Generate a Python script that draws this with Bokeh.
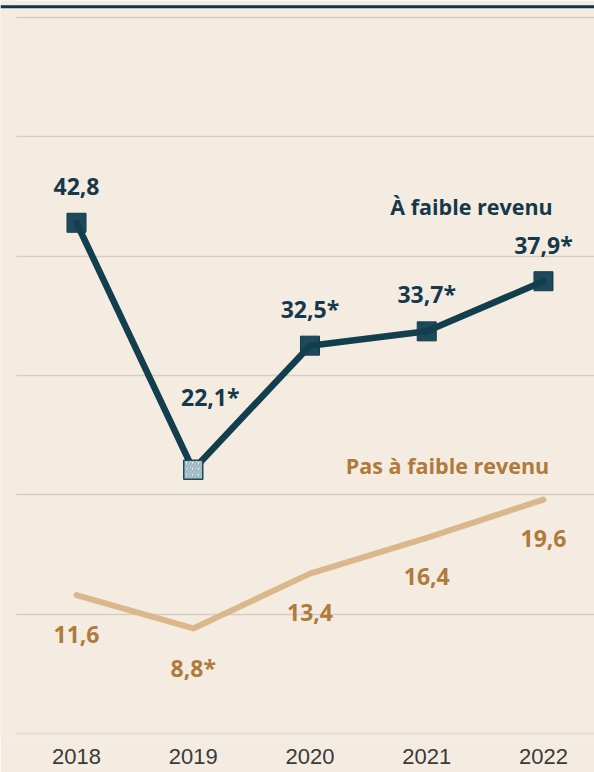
from bokeh.plotting import figure
from bokeh.models import ColumnDataSource, FixedTicker, Grid, Span, Range1d, BoxAnnotation
from bokeh.core.properties import value
from bokeh.embed import file_html
from bokeh.resources import INLINE

# ---- data ----
years = [2018, 2019, 2020, 2021, 2022]
year_labels = ["2018", "2019", "2020", "2021", "2022"]
low_income = [42.8, 22.1, 32.5, 33.7, 37.9]
low_income_labels = ["42,8", "22,1*", "32,5*", "33,7*", "37,9*"]
not_low_income = [11.6, 8.8, 13.4, 16.4, 19.6]
not_low_income_labels = ["11,6", "8,8*", "13,4", "16,4", "19,6"]
series_names = ["À faible revenu", "Pas à faible revenu"]
hatched = [False, True, False, False, False]  # 2019 estimate shown hatched
grid_values = [10, 20, 30, 40, 50, 60]

# ---- styles / label placement (screen px) ----
BG = "#f4ece1"
DARK_LINE = "#133e4e"
DARK_FILL = "#1d4a5b"
DARK_TEXT = "#15394a"
LIGHT_LINE = "#dbb88c"
LIGHT_TEXT = "#b07a3c"
low_dx = [0, 17, 0, 0, 0]
low_dy = [-36, -73, -37, -37, -36]
not_dx = [0, 0, 0, 0, 0]
not_dy = [39, 40, 39, 39, 39]

W, H = 594, 772
X0, X1 = 2017.349, 2022.437
Y0, Y1 = -0.419, 61.4246
px_x = W / (X1 - X0)

p = figure(width=W, height=H, output_backend="svg", toolbar_location=None,
           x_range=Range1d(X0, X1), y_range=Range1d(Y0, Y1),
           min_border_left=0, min_border_right=0, min_border_top=0, min_border_bottom=34)
p.background_fill_color = BG
p.border_fill_color = BG
p.outline_line_color = None
p.yaxis.visible = False
p.xgrid.visible = False
p.ygrid.visible = False

p.xaxis.ticker = FixedTicker(ticks=years)
p.xaxis.major_label_overrides = {y: l for y, l in zip(years, year_labels)}
p.xaxis.axis_line_color = None
p.xaxis.major_tick_line_color = None
p.xaxis.minor_tick_line_color = None
p.xaxis.major_tick_out = 0
p.xaxis.major_tick_in = 0
p.xaxis.major_label_standoff = 10
p.xaxis.major_label_text_font = "Liberation Sans"
p.xaxis.major_label_text_font_size = "22px"
p.xaxis.major_label_text_color = "#3a3a3a"

p.add_layout(Grid(dimension=1, ticker=FixedTicker(ticks=grid_values),
                  grid_line_color="#d6cec3", grid_line_width=1.5))
p.add_layout(Grid(dimension=1, ticker=FixedTicker(ticks=[0]),
                  grid_line_color="#e4ded6", grid_line_width=2))
# gridlines start 16px in from the left edge
p.add_layout(BoxAnnotation(right=X0 + 16 / px_x, fill_color=BG, fill_alpha=1,
                           line_color=None, level="underlay"))
p.add_layout(Span(location=60.897, dimension="width", line_color="#0e3446", line_width=3))

# light series
p.line(years, not_low_income, line_color=LIGHT_LINE, line_width=6, line_cap="round", line_join="round")

# dark series
solid = ColumnDataSource(dict(x=[x for x, h in zip(years, hatched) if not h],
                              y=[v for v, h in zip(low_income, hatched) if not h]))
hat = ColumnDataSource(dict(x=[x for x, h in zip(years, hatched) if h],
                            y=[v for v, h in zip(low_income, hatched) if h]))
p.scatter("x", "y", source=solid, marker="square", size=19, fill_color=DARK_FILL,
          line_color="#123a4a", line_width=1)
p.line(years, low_income, line_color=DARK_LINE, line_width=6.5, line_cap="round", line_join="round")
p.scatter("x", "y", source=hat, marker="square", size=19, fill_color="#f8f6f2",
          line_color="#1d4a5b", line_width=1.5, hatch_pattern="right_diagonal_line",
          hatch_color="#9fb8c2", hatch_scale=6, hatch_weight=2.5)

lsrc = ColumnDataSource(dict(x=years, y=low_income, t=low_income_labels, dx=low_dx, dy=low_dy))
p.text("x", "y", text="t", source=lsrc, x_offset="dx", y_offset="dy",
       text_font=value("Open Sans"), text_font_style="bold", text_font_size="23px",
       text_color=DARK_TEXT, text_align="center", text_baseline="alphabetic")
nsrc = ColumnDataSource(dict(x=years, y=not_low_income, t=not_low_income_labels, dx=not_dx, dy=not_dy))
p.text("x", "y", text="t", source=nsrc, x_offset="dx", y_offset="dy",
       text_font=value("Open Sans"), text_font_style="bold", text_font_size="23px",
       text_color=LIGHT_TEXT, text_align="center", text_baseline="alphabetic")

# series names anchored on last point
p.text(x=[years[-1]], y=[low_income[-1]], text=[series_names[0]], x_offset=-72, y_offset=-75,
       text_font=value("Open Sans"), text_font_style="bold", text_font_size="21.5px",
       text_color=DARK_TEXT, text_align="center", text_baseline="alphabetic")
p.text(x=[years[-1]], y=[not_low_income[-1]], text=[series_names[1]], x_offset=-96, y_offset=-34,
       text_font=value("Open Sans"), text_font_style="bold", text_font_size="21.5px",
       text_color=LIGHT_TEXT, text_align="center", text_baseline="alphabetic")

open("out.html", "w").write(file_html(p, INLINE))
